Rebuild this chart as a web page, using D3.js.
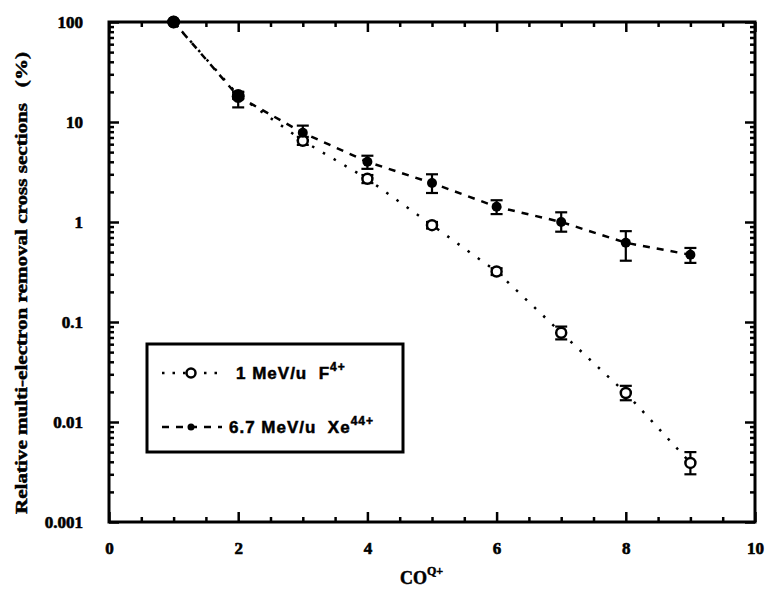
<!DOCTYPE html>
<html><head><meta charset="utf-8">
<script src="https://d3js.org/d3.v7.min.js"></script>
<style>body{margin:0;background:#fff}</style>
</head><body>
<svg id="c" width="766" height="595"></svg>
<script>
const chargeStates = [1, 2, 3, 4, 5, 6, 7, 8, 9];
const fValues = [100, 18.5, 6.5, 2.7, 0.93, 0.32, 0.078, 0.0195, 0.0039];
const fLow    = [100, 17, 5.9, 2.45, 0.86, 0.295, 0.067, 0.0165, 0.0030];
const fHigh   = [100, 20, 7.1, 2.95, 1.0, 0.345, 0.09, 0.023, 0.0050];
const xeValues = [100, 18, 7.8, 4.0, 2.45, 1.42, 1.0, 0.62, 0.47];
const xeLow    = [100, 14, 6.6, 3.4, 1.95, 1.2, 0.8, 0.41, 0.39];
const xeHigh   = [100, 20, 9.2, 4.6, 3.0, 1.65, 1.25, 0.81, 0.55];
const xTicks = [0, 2, 4, 6, 8, 10];
const yTicks = [100, 10, 1, 0.1, 0.01, 0.001];
const yTickLabels = ["100", "10", "1", "0.1", "0.01", "0.001"];

const svg = d3.select("#c");
const L = 109, R = 755, T = 22, B = 522;
const x = d3.scaleLinear().domain([0, 10]).range([L, R]);
const y = d3.scaleLog().domain([0.001, 100]).range([B, T]);

const serif = "'Liberation Serif','DejaVu Serif',serif";
const sans = "'Liberation Sans',Arial,sans-serif";

const xMinor = d3.range(0, 10.01, 0.5).filter(v => Math.abs(v % 2) > 1e-6);
const yMinor = [];
for (let e = -3; e < 2; e++) for (let m = 2; m <= 9; m++) yMinor.push(m * Math.pow(10, e));

const g = svg.append("g");
function axisStyle(sel) {
  sel.select(".domain").remove();
  sel.selectAll("line").attr("stroke", "#000").attr("stroke-width", 2.5);
}
function labelStyle(s) {
  s.selectAll("text").attr("font-family", serif).attr("font-weight", "bold").attr("font-size", 17)
    .attr("fill", "#000").attr("stroke", "#000").attr("stroke-width", 0.6);
}
g.append("g").attr("transform", `translate(0,${B})`)
  .call(d3.axisBottom(x).tickValues(xTicks).tickSize(-10).tickPadding(20).tickFormat(d3.format("d")))
  .call(axisStyle).call(labelStyle);
g.append("g").attr("transform", `translate(0,${B})`)
  .call(d3.axisBottom(x).tickValues(xMinor).tickSize(-5).tickFormat(""))
  .call(axisStyle);
g.append("g").attr("transform", `translate(0,${T})`)
  .call(d3.axisTop(x).tickValues(xTicks).tickSize(-10).tickFormat(""))
  .call(axisStyle);
g.append("g").attr("transform", `translate(0,${T})`)
  .call(d3.axisTop(x).tickValues(xMinor).tickSize(-5).tickFormat(""))
  .call(axisStyle);
g.append("g").attr("transform", `translate(${L},0)`)
  .call(d3.axisLeft(y).tickValues(yTicks).tickSize(-10).tickPadding(26).tickFormat((d, i) => yTickLabels[i]))
  .call(axisStyle).call(labelStyle);
g.append("g").attr("transform", `translate(${L},0)`)
  .call(d3.axisLeft(y).tickValues(yMinor).tickSize(-5).tickFormat(""))
  .call(axisStyle);
g.append("g").attr("transform", `translate(${R},0)`)
  .call(d3.axisRight(y).tickValues(yTicks).tickSize(-10).tickFormat(""))
  .call(axisStyle);
g.append("g").attr("transform", `translate(${R},0)`)
  .call(d3.axisRight(y).tickValues(yMinor).tickSize(-5).tickFormat(""))
  .call(axisStyle);

svg.append("rect").attr("x", L).attr("y", T).attr("width", R - L).attr("height", B - T)
  .attr("fill", "none").attr("stroke", "#000").attr("stroke-width", 3);

const line = d3.line().x(d => x(d[0])).y(d => y(d[1]));
svg.append("path").datum(chargeStates.map((c, i) => [c, fValues[i]]))
  .attr("d", line).attr("fill", "none").attr("stroke", "#000").attr("stroke-width", 2.5)
  .attr("stroke-dasharray", "2.5,10");
svg.append("path").datum(chargeStates.map((c, i) => [c, xeValues[i]]))
  .attr("d", line).attr("fill", "none").attr("stroke", "#000").attr("stroke-width", 2.5)
  .attr("stroke-dasharray", "7,7");

function errBars(lo, hi) {
  const eg = svg.append("g").attr("stroke", "#000").attr("stroke-width", 2.2);
  chargeStates.forEach((c, i) => {
    if (lo[i] === hi[i]) return;
    const cx = x(c);
    eg.append("line").attr("x1", cx).attr("x2", cx).attr("y1", y(lo[i])).attr("y2", y(hi[i]));
    eg.append("line").attr("x1", cx - 6).attr("x2", cx + 6).attr("y1", y(lo[i])).attr("y2", y(lo[i]));
    eg.append("line").attr("x1", cx - 6).attr("x2", cx + 6).attr("y1", y(hi[i])).attr("y2", y(hi[i]));
  });
}
errBars(fLow, fHigh);
errBars(xeLow, xeHigh);

svg.append("g").selectAll("circle").data(chargeStates.map((c, i) => [c, fValues[i]])).join("circle")
  .attr("cx", d => x(d[0])).attr("cy", d => y(d[1])).attr("r", 5)
  .attr("fill", "#fff").attr("stroke", "#000").attr("stroke-width", 2.5);
svg.append("g").selectAll("circle").data(chargeStates.map((c, i) => [c, xeValues[i]])).join("circle")
  .attr("cx", d => x(d[0])).attr("cy", d => y(d[1])).attr("r", (d, i) => i < 2 ? 6.5 : 5)
  .attr("fill", "#000");

const lg = svg.append("g");
lg.append("rect").attr("x", 147).attr("y", 344).attr("width", 256).attr("height", 108)
  .attr("fill", "#fff").attr("stroke", "#000").attr("stroke-width", 3);
lg.append("line").attr("x1", 162).attr("x2", 222).attr("y1", 373).attr("y2", 373)
  .attr("stroke", "#000").attr("stroke-width", 2.5).attr("stroke-dasharray", "2.5,8");
lg.append("circle").attr("cx", 191).attr("cy", 373).attr("r", 4.5).attr("fill", "#fff").attr("stroke", "#000").attr("stroke-width", 2.5);
lg.append("line").attr("x1", 162).attr("x2", 222).attr("y1", 427).attr("y2", 427)
  .attr("stroke", "#000").attr("stroke-width", 2.5).attr("stroke-dasharray", "7,7");
lg.append("circle").attr("cx", 191).attr("cy", 427).attr("r", 3.5).attr("fill", "#000");

const legendStyle = t => t.attr("font-family", sans).attr("font-weight", "bold").attr("font-size", 17)
  .attr("letter-spacing", 1).attr("stroke", "#000").attr("stroke-width", 0.5);
const t1 = lg.append("text").attr("x", 236).attr("y", 379).call(legendStyle).attr("xml:space", "preserve");
t1.append("tspan").text("1 MeV/u  F");
t1.append("tspan").attr("dy", -8).attr("font-size", 12).text("4+");
const t2 = lg.append("text").attr("x", 229).attr("y", 433).call(legendStyle).attr("xml:space", "preserve");
t2.append("tspan").text("6.7 MeV/u  Xe");
t2.append("tspan").attr("dy", -8).attr("font-size", 12).text("44+");

const xt = svg.append("text").attr("x", 400).attr("y", 584).attr("font-family", serif).attr("font-weight", "bold")
  .attr("font-size", 18).attr("stroke", "#000").attr("stroke-width", 0.5);
xt.append("tspan").text("CO");
xt.append("tspan").attr("dy", -9).attr("font-size", 12).text("Q+");

svg.append("text").attr("transform", "translate(27,283) rotate(-90)").attr("text-anchor", "middle")
  .attr("font-family", serif).attr("font-weight", "bold").attr("font-size", 17)
  .attr("stroke", "#000").attr("stroke-width", 0.5)
  .attr("textLength", 462).attr("lengthAdjust", "spacingAndGlyphs")
  .attr("xml:space", "preserve")
  .text("Relative multi-electron removal cross sections   (%)");
</script>
</body></html>
